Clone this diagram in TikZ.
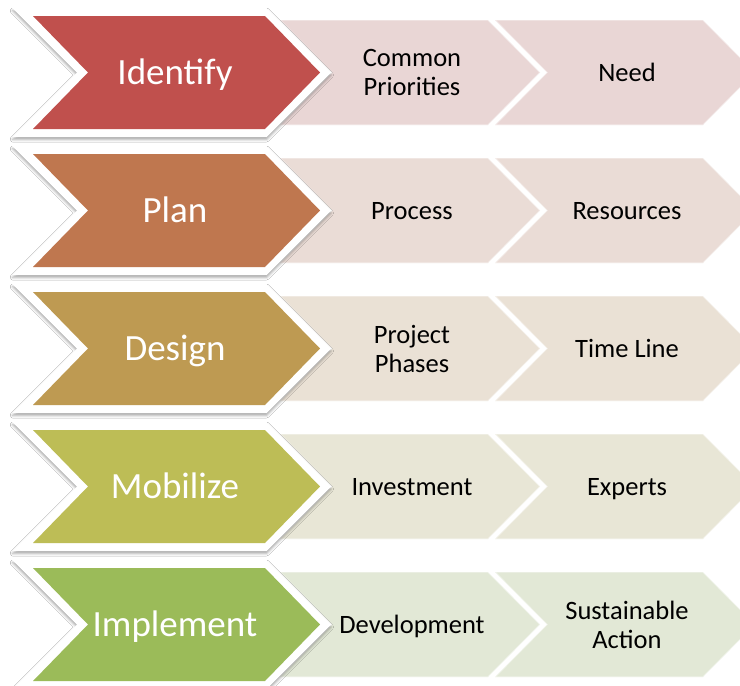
\documentclass[tikz,border=0pt]{standalone}
\usepackage{fontspec}
\setmainfont{Carlito}
\usepackage{xcolor}
\definecolor{identred}{HTML}{C0504D}
\definecolor{planbrown}{HTML}{BF774F}
\definecolor{designgold}{HTML}{BE9A52}
\definecolor{mobolive}{HTML}{BDBD56}
\definecolor{implgreen}{HTML}{9BBB59}
\definecolor{identtint}{HTML}{E9D6D5}
\definecolor{plantint}{HTML}{EADCD6}
\definecolor{designtint}{HTML}{EAE1D5}
\definecolor{mobtint}{HTML}{E8E6D6}
\definecolor{impltint}{HTML}{E2E8D6}
\usepackage{tikz}
\usetikzlibrary{shadows.blur}
\tikzset{
  bigback/.style={
    fill=white, blur shadow={shadow xshift=0pt, shadow yshift=-2.5pt,
    shadow blur radius=2.5pt, shadow opacity=35}
  },
  smallbox/.style={draw=white, draw opacity=0.45, line width=1.2pt},
  biglabel/.style={font=\fontsize{37}{44}\selectfont, text=white, inner sep=0pt,
    text height=25pt, text depth=1pt},
  smalllabel/.style={font=\fontsize{26.5}{29}\selectfont, text=black,
    align=center, inner sep=0pt},
  oneline/.style={text height=18pt, text depth=1pt}
}
% big chevron: name, centre y, colour, label
\newcommand{\bigchev}[4]{%
  \path[bigback] (12.5,#2-64.5) -- (266.5,#2-64.5) -- (331,#2)
    -- (266.5,#2+64.5) -- (12.5,#2+64.5) -- (77,#2) -- cycle;
  \path[fill=#3] (33,#2-56.5) -- (265,#2-56.5) -- (320,#2)
    -- (265,#2+56.5) -- (33,#2+56.5) -- (88,#2) -- cycle;
  \node[biglabel] (#1) at (175,#2) {#4};
}
% small chevron: [label style] name, left x, centre y, fill, label
\newcommand{\smallchev}[6][oneline]{%
  \path[smallbox, fill=#5] (#3,#4-52.5) -- (#3+208,#4-52.5) -- (#3+260,#4)
    -- (#3+208,#4+52.5) -- (#3,#4+52.5) -- (#3+52,#4) -- cycle;
  \node[smalllabel, #1] (#2) at (#3+132,#4) {#6};
}

\begin{document}
\begin{tikzpicture}[x=1pt, y=-1pt]

\useasboundingbox (0,0) rectangle (740,686);
\fill[white] (0,0) rectangle (740,686);
\clip (0,0) rectangle (740,686);

% ── Identify ────────────────────────────────────────────
\smallchev{need}{495}{72.5}{identtint}{Need}
\smallchev[]{prio}{280}{72.5}{identtint}{Common\\Priorities}
\bigchev{identify}{72.5}{identred}{Identify}

% ── Plan ────────────────────────────────────────────────
\smallchev{resources}{495}{210.5}{plantint}{Resources}
\smallchev{process}{280}{210.5}{plantint}{Process}
\bigchev{plan}{210.5}{planbrown}{Plan}

% ── Design ──────────────────────────────────────────────
\smallchev{timeline}{495}{348.5}{designtint}{Time Line}
\smallchev[]{phases}{280}{348.5}{designtint}{Project\\Phases}
\bigchev{design}{348.5}{designgold}{Design}

% ── Mobilize ────────────────────────────────────────────
\smallchev{experts}{495}{486.5}{mobtint}{Experts}
\smallchev{invest}{280}{486.5}{mobtint}{Investment}
\bigchev{mobilize}{486.5}{mobolive}{Mobilize}

% ── Implement ───────────────────────────────────────────
\smallchev[]{action}{495}{624.5}{impltint}{Sustainable\\Action}
\smallchev{develop}{280}{624.5}{impltint}{Development}
\bigchev{implement}{624.5}{implgreen}{Implement}

\end{tikzpicture}
\end{document}
